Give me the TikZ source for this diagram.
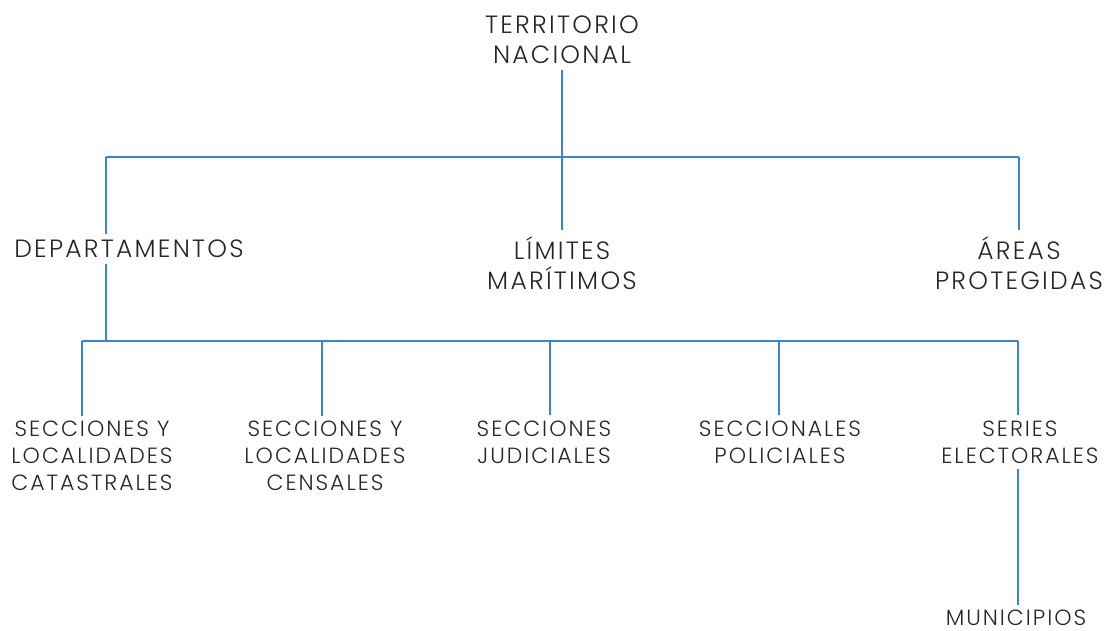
\documentclass[tikz,border=0pt]{standalone}
\usepackage{fontspec}
\setmainfont{Poppins Light}[LetterSpace=9]
\usetikzlibrary{positioning}
\definecolor{linea}{HTML}{3D85C6}
\definecolor{texto}{HTML}{262626}
\tikzset{
	nivel/.style={align=center, text=texto, inner sep=6pt, font=\fontsize{25}{30}\selectfont},
	hoja/.style={align=center, text=texto, inner sep=5pt, font=\fontsize{22}{27}\selectfont},
	rama/.style={draw=linea, line width=2pt}
}
\begin{document}
\begin{tikzpicture}[x=1pt,y=-1pt]
		\useasboundingbox (0,0) rectangle (1110,631);
		% niveles superiores
		\node[nivel] (TN) at (562,40) {TERRITORIO\\NACIONAL};
		\node[nivel] (DEP) at (129,249) {DEPARTAMENTOS};
		\node[nivel] (LM) at (562,263) {LÍMITES\\MARÍTIMOS};
		\node[nivel] (AP) at (1019,263) {ÁREAS\\PROTEGIDAS};
		% hojas
		\node[hoja] (SC) at (92,456) {SECCIONES Y\\LOCALIDADES\\CATASTRALES};
		\node[hoja] (SL) at (325,456) {SECCIONES Y\\LOCALIDADES\\CENSALES};
		\node[hoja] (SJ) at (544,442) {SECCIONES\\JUDICIALES};
		\node[hoja] (SP) at (780,442) {SECCIONALES\\POLICIALES};
		\node[hoja] (SE) at (1020,442) {SERIES\\ELECTORALES};
		\node[hoja] (MU) at (1016,618) {MUNICIPIOS};
		
		\coordinate (B1L) at (106,157);%barra 1 izq
		\coordinate (B1R) at (1019,157);%barra 1 der
		\coordinate (B2L) at (82,341);%barra 2 izq
		\coordinate (B2R) at (1018,341);%barra 2 der
		
		\draw[rama] (TN.south) -- (LM.north);
		\draw[rama] (B1L) -- (B1R);
		\draw[rama] (B1L) -- (B1L |- DEP.north);
		\draw[rama] (B1R) -- (B1R |- AP.north);
		\draw[rama] (B1L |- DEP.south) -- (B1L |- B2L);
		\draw[rama] (B2L) -- (B2R);
		\foreach \x/\n in {82/SC,322/SL,550/SJ,779/SP,1018/SE}
			\draw[rama] (\x,341) -- (\x,341 |- \n.north);
		\draw[rama] (SE.south -| B2R) -- (MU.north -| B2R);
\end{tikzpicture}
\end{document}
